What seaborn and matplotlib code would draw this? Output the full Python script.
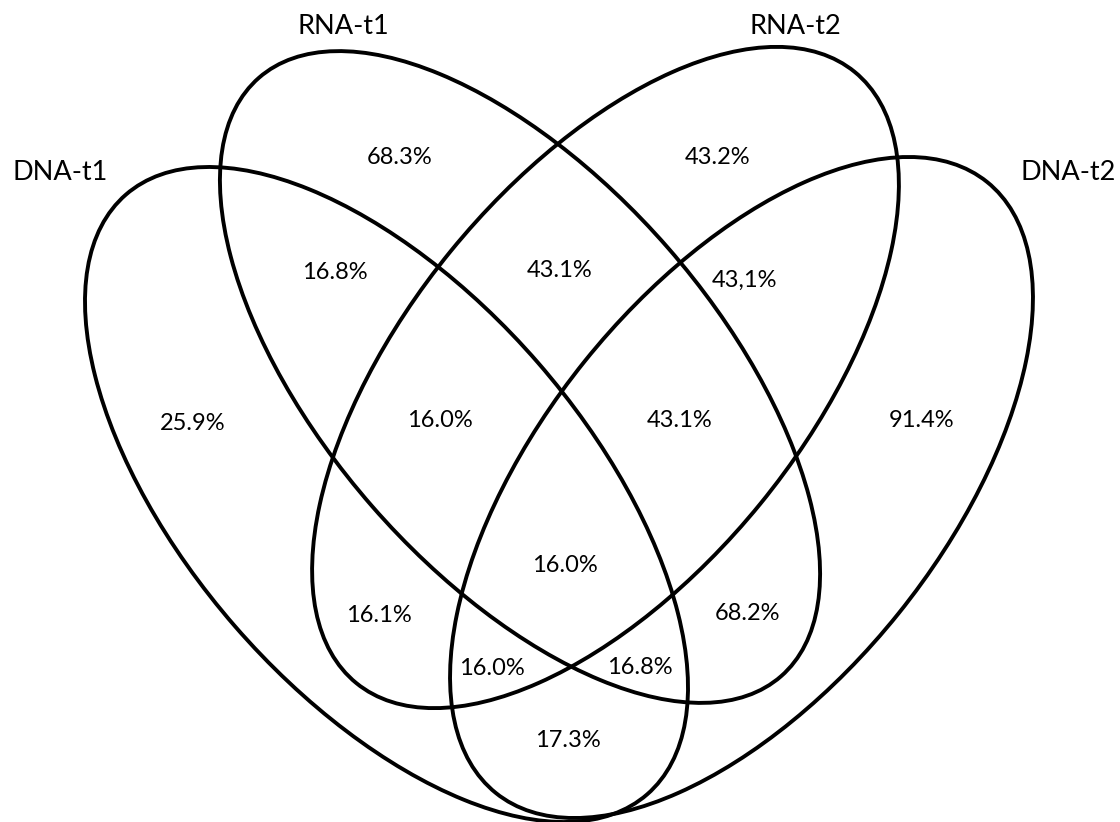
import matplotlib
matplotlib.use("Agg")
import matplotlib.pyplot as plt
from matplotlib.patches import Ellipse
import seaborn as sns

# === Data ===
set_names = ["DNA-t1", "RNA-t1", "RNA-t2", "DNA-t2"]
region_labels = [
    "68.3%", "43.2%",
    "16.8%", "43.1%", "43,1%",
    "25.9%", "16.0%", "43.1%", "91.4%",
    "16.0%",
    "16.1%", "68.2%",
    "16.0%", "16.8%",
    "17.3%",
]

# === Layout (pixel coords, y down) ===
ell_centers = [(386.5, 494.5), (520, 377), (605.5, 377.5), (741.5, 487.5)]
ell_axes = [(794.6, 401.6), (794.2, 392.8), (788.6, 399.6), (784, 402.6)]
ell_angles = [49.0, 48.9, -50.8, -51.2]

name_pos = [(60, 173), (343, 26), (795, 26), (1068, 172)]
label_pos = [
    (400, 157), (718, 157),
    (335, 272), (560, 270), (745, 280),
    (193, 423), (440, 420), (680, 420), (922, 420),
    (565, 565),
    (379, 615), (748, 613),
    (492, 668), (640, 667),
    (568, 740),
]

sns.set_theme(style="white")
plt.rcParams['font.family'] = ['Lato', 'DejaVu Sans']

fig = plt.figure(figsize=(11.2, 8.22), dpi=100)
ax = fig.add_axes([0, 0, 1, 1])
ax.set_xlim(0, 1120)
ax.set_ylim(822, 0)
ax.set_aspect('equal')
ax.axis('off')

for (cx, cy), (w, h), ang in zip(ell_centers, ell_axes, ell_angles):
    ax.add_patch(Ellipse((cx, cy), w, h, angle=ang,
                         fill=False, edgecolor='black', linewidth=2.8))

for name, (x, y) in zip(set_names, name_pos):
    ax.text(x, y, name, fontsize=19.5, ha='center', va='center', color='black')

for lab, (x, y) in zip(region_labels, label_pos):
    ax.text(x, y, lab, fontsize=17, ha='center', va='center', color='black')

fig.savefig("out.png", dpi=100)
